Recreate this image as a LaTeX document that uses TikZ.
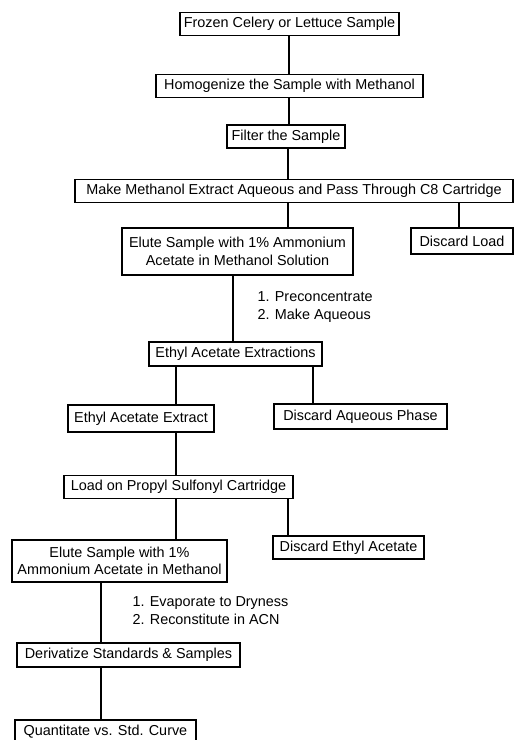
\documentclass[tikz,border=0pt]{standalone}
\usepackage{fontspec}
\setmainfont{Liberation Sans}
\begin{document}
\begin{tikzpicture}[x=1pt,y=-1pt,line width=1.1pt,
	box/.style={rectangle, draw, fill=white, inner xsep=3pt, inner ysep=2pt, minimum height=23pt, font=\fontsize{14.4}{17.5}\selectfont, align=center},
	note/.style={anchor=west, inner sep=0pt, font=\fontsize{14.4}{18}\selectfont, align=left}]
	\useasboundingbox (0,0) rectangle (516,740);
	\node (S1)  at (289.5, 24)	[box, minimum width=219]	{Frozen Celery or Lettuce Sample};
	\node (S2)  at (289.5, 86)	[box, minimum width=267]	{Homogenize the Sample with Methanol};
	\node (S3)  at (286, 136.5)	[box, minimum width=118]	{Filter the Sample};
	\node (S4)  at (294, 191)	[box, minimum width=438]	{Make Methanol Extract Aqueous and Pass Through C8 Cartridge};
	\node (S5)  at (237.5, 251.5)	[box, minimum width=231, minimum height=47]	{Elute Sample with 1\% Ammonium\\Acetate in Methanol Solution};
	\node (D1)  at (462, 241)	[box, minimum width=102, minimum height=26]	{Discard Load};
	\node (N1)  at (257, 307)	[note]	{1. Preconcentrate\\2. Make Aqueous};
	\node (S6)  at (235.5, 354)	[box, minimum width=173, minimum height=24]	{Ethyl Acetate Extractions};
	\node (S7)  at (141, 418.5)	[box, minimum width=146, minimum height=27]	{Ethyl Acetate Extract};
	\node (D2)  at (360.5, 416.5)	[box, minimum width=173, minimum height=25]	{Discard Aqueous Phase};
	\node (S8)  at (178.5, 487)	[box, minimum width=229]	{Load on Propyl Sulfonyl Cartridge};
	\node (S9)  at (119.5, 561)	[box, minimum width=215, minimum height=42]	{Elute Sample with 1\%\\Ammonium Acetate in Methanol};
	\node (D3)  at (348.5, 547.5)	[box, minimum width=151]	{Discard Ethyl Acetate};
	\node (N2)  at (132, 610.5)	[note]	{1. Evaporate to Dryness\\2. Reconstitute in ACN};
	\node (S10) at (128.5, 655)	[box, minimum width=223, minimum height=24]	{Derivatize Standards \& Samples};
	\node (S11) at (105.5, 732)	[box, minimum width=181, minimum height=24]	{Quantitate vs. Std. Curve};
	\draw (S1.south -| 289,0) -- (S2.north -| 289,0);
	\draw (S2.south -| 289,0) -- (S3.north -| 289,0);
	\draw (S3.south -| 288,0) -- (S4.north -| 288,0);
	\draw (S4.south -| 288,0) -- (S5.north -| 288,0);
	\draw (S4.south -| 459,0) -- (D1.north -| 459,0);
	\draw (S5.south -| 233,0) -- (S6.north -| 233,0);
	\draw (S6.south -| 176,0) -- (S7.north -| 176,0);
	\draw (S6.south -| 313,0) -- (D2.north -| 313,0);
	\draw (S7.south -| 176,0) -- (S8.north -| 176,0);
	\draw (S8.south -| 176,0) -- (S9.north -| 176,0);
	\draw (S8.south -| 288,0) -- (D3.north -| 288,0);
	\draw (S9.south -| 101,0) -- (S10.north -| 101,0);
	\draw (S10.south -| 101,0) -- (S11.north -| 101,0);
\end{tikzpicture}
\end{document}
